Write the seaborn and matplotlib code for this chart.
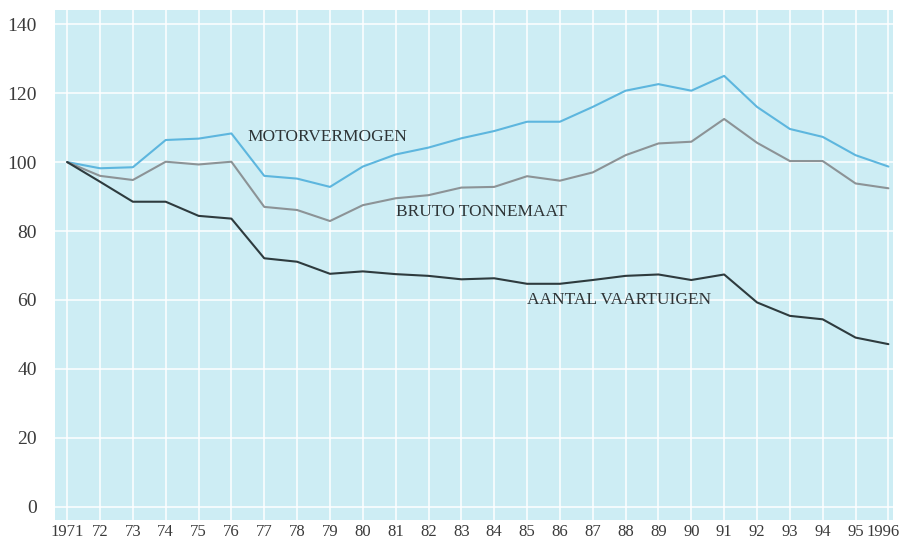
import numpy as np
import pandas as pd
import matplotlib
matplotlib.use("Agg")
import matplotlib.pyplot as plt
import matplotlib.transforms as mtransforms
import seaborn as sns

years = list(range(1971, 1997))
tick_labels = ["1971"] + [str(y)[2:] for y in range(1972, 1996)] + ["1996"]

motorvermogen = [100, 98.2, 98.5, 106.4, 106.8, 108.3, 96.0, 95.2, 92.8, 98.7,
                 102.2, 104.2, 106.9, 109.0, 111.7, 111.7, 116.0, 120.7, 122.6,
                 120.7, 125.0, 116.0, 109.6, 107.3, 102.0, 98.7]
bruto_tonnemaat = [100, 96.0, 94.8, 100.1, 99.3, 100.1, 87.0, 86.1, 82.9, 87.5,
                   89.5, 90.4, 92.6, 92.8, 95.9, 94.6, 97.0, 102.0, 105.4, 105.9,
                   112.5, 105.6, 100.3, 100.3, 93.8, 92.4]
aantal_vaartuigen = [100, 94.3, 88.5, 88.5, 84.4, 83.6, 72.1, 71.1, 67.6, 68.3,
                     67.5, 67.0, 66.0, 66.3, 64.7, 64.7, 65.8, 67.0, 67.4, 65.8,
                     67.4, 59.3, 55.4, 54.4, 49.1, 47.2]

series_names = ["MOTORVERMOGEN", "BRUTO TONNEMAAT", "AANTAL VAARTUIGEN"]
series_values = [motorvermogen, bruto_tonnemaat, aantal_vaartuigen]

df = pd.DataFrame({
    "jaar": years * 3,
    "waarde": motorvermogen + bruto_tonnemaat + aantal_vaartuigen,
    "reeks": sum([[n] * len(years) for n in series_names], []),
})

palette = {"MOTORVERMOGEN": "#5db6de",
           "BRUTO TONNEMAAT": "#8c9396",
           "AANTAL VAARTUIGEN": "#2e3b3e"}

sns.set_theme(style="white")
plt.rcParams["font.family"] = ["Liberation Serif", "DejaVu Serif"]

fig = plt.figure(figsize=(9.02, 5.40), dpi=100)
ax = fig.add_axes([55 / 902, 20 / 540, (893 - 55) / 902, (530 - 20) / 540])
ax.set_facecolor("#cdedf4")

sns.lineplot(data=df, x="jaar", y="waarde", hue="reeks", palette=palette,
             hue_order=series_names, linewidth=1.5, legend=False, ax=ax)

ax.set_xlim(1970.63, 1996.14)
ax.set_ylim(-3.8, 144.1)
ax.set_xticks(years)
ax.set_xticklabels(tick_labels)
ax.set_yticks(range(0, 141, 20))
ax.grid(True, color="white", linewidth=1.2, alpha=0.9)
ax.set_axisbelow(True)
for s in ax.spines.values():
    s.set_visible(False)
ax.tick_params(axis="both", length=0, colors="#3a3a3a")
ax.tick_params(axis="y", labelsize=14, pad=13)
ax.tick_params(axis="x", labelsize=12, pad=3)
ax.set_xlabel("")
ax.set_ylabel("")

last = ax.get_xticklabels()[-1]
last.set_transform(last.get_transform() +
                   mtransforms.ScaledTranslation(-5 / 100, 0, fig.dpi_scale_trans))

label_pos = {"MOTORVERMOGEN": (1976.5, 107.2),
             "BRUTO TONNEMAAT": (1981.0, 85.5),
             "AANTAL VAARTUIGEN": (1985.0, 60.0)}
for name in series_names:
    x, y = label_pos[name]
    ax.text(x, y, name, fontsize=12.5, color="#2e3436", va="center", ha="left")

fig.savefig("out.png", dpi=100)
